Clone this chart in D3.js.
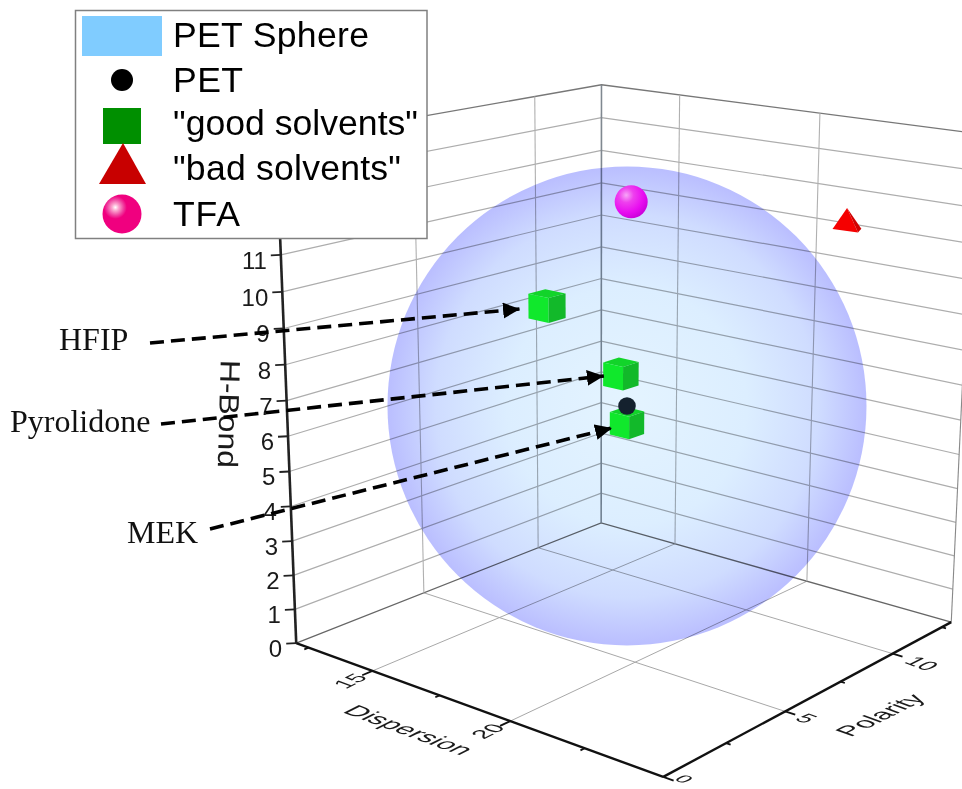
<!DOCTYPE html>
<html><head><meta charset="utf-8">
<script src="https://cdn.jsdelivr.net/npm/d3@7/dist/d3.min.js"></script>
<style>html,body{margin:0;padding:0;background:#fff}svg{display:block}</style>
</head><body><svg id="c" width="962" height="789"></svg>
<script>
const dispersionTicks=[15,20];
const dispersionMinor=[12.5,15,17.5,20,22.5];
const polarityTicks=[0,5,10];
const polarityMinor=[0,2.5,5,7.5,10,12.5];
const hbondTicks=[0,1,2,3,4,5,6,7,8,9,10,11,12,13,14];
const hbondLabels=[0,1,2,3,4,5,6,7,8,9,10,11];
const petPoint=[[17.33,7.83,6.1]];
const sphereRadius=[7];
const goodNames=["HFIP","Pyrolidone","MEK"];
const goodSolvents=[[17,4.87,9.5],[17.13,7.8,7],[16.29,9.09,5.1]];
const badSolvents=[[23.38,9.5,11.9]];
const tfaPoint=[[16.4,9.1,11.6]];
const legendNames=["PET Sphere","PET","\"good solvents\"","\"bad solvents\"","TFA"];
const dDomain=[12,25],pDomain=[0,13],zDomain=[0,14];

const ud=d3.scaleLinear().domain(dDomain).range([0,1]);
const uv=d3.scaleLinear().domain(pDomain).range([0,1]);
const uw=d3.scaleLinear().domain(zDomain).range([0,1]);
function solve(A,b){const n=b.length,M=A.map((r,i)=>[...r,b[i]]);
 for(let i=0;i<n;i++){let p=i;for(let k=i+1;k<n;k++)if(Math.abs(M[k][i])>Math.abs(M[p][i]))p=k;[M[i],M[p]]=[M[p],M[i]];
  for(let k=0;k<n;k++)if(k!==i){const f=M[k][i]/M[i][i];for(let j=i;j<=n;j++)M[k][j]-=f*M[i][j];}}
 return M.map((r,i)=>r[n]/r[i]);}
// camera calibration: cube corners -> screen
const cal=[[0,0,0,295,643],[1,0,0,665,776],[1,1,0,950,624],[0,1,0,602,522],[0,0,1,276,143],[0,1,1,602,85],[1,1,1,974,132]];
const A=[],B=[];cal.forEach(([u,v,w,x,y])=>{
 A.push([u,v,w,1,0,0,0,0,-x*u,-x*v,-x*w]);B.push(x);
 A.push([0,0,0,0,u,v,w,1,-y*u,-y*v,-y*w]);B.push(y);});
const AtA=Array.from({length:11},(_,i)=>Array.from({length:11},(_,j)=>d3.sum(A,r=>r[i]*r[j])));
const Atb=Array.from({length:11},(_,i)=>d3.sum(A,(r,k)=>r[i]*B[k]));
const m=solve(AtA,Atb);
function pj(d,p,z){const u=ud(d),v=uv(p),w=uw(z),q=m[8]*u+m[9]*v+m[10]*w+1;
 return [(m[0]*u+m[1]*v+m[2]*w+m[3])/q,(m[4]*u+m[5]*v+m[6]*w+m[7])/q];}
const [d0,d1]=dDomain,[p0,p1]=pDomain,[z0,z1]=zDomain;

const svg=d3.select("#c");
const defs=svg.append("defs");
const line=d3.line();
const seg=(g,pts,col,w)=>g.append("path").attr("d",line(pts)).attr("fill","none").attr("stroke",col).attr("stroke-width",w);

const grid=svg.append("g");
polarityTicks.filter(p=>p>0).forEach(p=>seg(grid,[pj(d0,p,0),pj(d1,p,0)],"#a8a8a8",1));
dispersionTicks.forEach(d=>seg(grid,[pj(d,p0,0),pj(d,p1,0)],"#a8a8a8",1));
hbondTicks.forEach(z=>{const c=z===0?"#666":(z===14?"#777":"#adadad");
 seg(grid,[pj(d0,p0,z),pj(d0,p1,z),pj(d1,p1,z)],c,z===0||z===14?1.3:1.2);});
polarityTicks.filter(p=>p>0).forEach(p=>seg(grid,[pj(d0,p,0),pj(d0,p,z1)],"#b0b0b0",1.1));
dispersionTicks.forEach(d=>seg(grid,[pj(d,p1,0),pj(d,p1,z1)],"#b0b0b0",1.1));
seg(grid,[pj(d0,p1,0),pj(d0,p1,z1)],"#808890",1.6);
seg(grid,[pj(d1,p1,0),pj(d1,p1,z1)],"#888",1.1);

// sphere
const cs=pj(...petPoint[0]);
const rs=Math.abs(pj(petPoint[0][0],petPoint[0][1],petPoint[0][2]-sphereRadius[0])[1]-pj(petPoint[0][0],petPoint[0][1],petPoint[0][2]+sphereRadius[0])[1])/2;
const sg=defs.append("radialGradient").attr("id","sph");
[[0,"#e4f4ff"],[.5,"#dceeff"],[.8,"#cfdcff"],[1,"#babeff"]].forEach(([o,c])=>sg.append("stop").attr("offset",o).attr("stop-color",c));
svg.append("circle").attr("cx",cs[0]).attr("cy",cs[1]).attr("r",rs).attr("fill","url(#sph)").style("mix-blend-mode","multiply");

// axes
const ax=svg.append("g").attr("font-family","'Liberation Sans',Arial,sans-serif").attr("fill","#1a1a1a");
seg(ax,[pj(d0,p0,0),pj(d1,p0,0)],"#111",2.4);
seg(ax,[pj(d1,p0,0),pj(d1,p1,0)],"#111",2.4);
seg(ax,[pj(d0,p0,0),pj(d0,p0,z1)],"#222",2.6);
hbondLabels.forEach(z=>{const a=pj(d0,p0,z);
 seg(ax,[a,[a[0]-10,a[1]+0.5]],"#222",1.8);
 ax.append("text").attr("x",a[0]-14).attr("y",a[1]+14).attr("text-anchor","end").attr("font-size",24).text(z);});
dispersionMinor.forEach(d=>{const a=pj(d,p0,0),t=pj(d,-(dispersionTicks.includes(d)?0.38:0.16),0);seg(ax,[a,t],"#111",1.8);});
polarityMinor.forEach(p=>{const a=pj(d1,p,0),t=pj(d1+(polarityTicks.includes(p)?0.32:0.14),p,0);seg(ax,[a,t],"#111",1.8);});
function planeText(txt,pos,dirX,dirUp,size,kx,ky){
 const nx=Math.hypot(...dirX),nu=Math.hypot(...dirUp);
 const a=dirX[0]/nx*kx,b=dirX[1]/nx*kx,c=-dirUp[0]/nu*ky,e=-dirUp[1]/nu*ky;
 ax.append("text").attr("transform",`matrix(${a},${b},${c},${e},${pos[0]},${pos[1]})`).attr("text-anchor","middle").attr("dominant-baseline","central").attr("font-size",size).text(txt);}
const dirD=[27.4,10],dirP=[22,-11];
dispersionTicks.forEach(d=>{const a=pj(d,p0,0);planeText(d,[a[0]-22,a[1]+10],dirP,[-dirD[0],-dirD[1]],22,1.05,1);});
polarityTicks.forEach(p=>{const a=pj(d1,p,0),len=String(p).length-1,dy=p===0?2:7+len*3;planeText(p,[a[0]+21+len*8,a[1]+dy],dirD,dirP,p===0?20:22,1.05,p===0?.9:1);});
planeText("Dispersion",[409,730],dirD,dirP,25,1.08,1);
planeText("Polarity",[880,715],dirP,[-dirD[0],-dirD[1]],25,1.02,1.05);
ax.append("text").attr("transform","translate(229,414) rotate(91.5) scale(1.14,1)").attr("text-anchor","middle").attr("dominant-baseline","central").attr("font-size",28).text("H-Bond");

// markers
function cube(c){const [d,p,z]=c,dd=.36,dp=.34,dz=.34;
 const f=(a,b,e)=>pj(d+a*dd,p+b*dp,z+e*dz);
 const g=svg.append("g");
 g.append("path").attr("d",line([f(-1,-1,1),f(1,-1,1),f(1,1,1),f(-1,1,1)])+"Z").attr("fill","#12d42a");
 g.append("path").attr("d",line([f(-1,-1,1),f(1,-1,1),f(1,-1,-1),f(-1,-1,-1)])+"Z").attr("fill","#10e82c");
 g.append("path").attr("d",line([f(1,-1,1),f(1,1,1),f(1,1,-1),f(1,-1,-1)])+"Z").attr("fill","#12b92a");}
goodSolvents.forEach(cube);
const pg=defs.append("radialGradient").attr("id","tfaB").attr("cx",.35).attr("cy",.3).attr("r",.75);
[[0,"#f7a6f7"],[.3,"#ee40ee"],[.7,"#e80cf0"],[1,"#c800d8"]].forEach(([o,c])=>pg.append("stop").attr("offset",o).attr("stop-color",c));
tfaPoint.forEach(c=>{const q=pj(...c);svg.append("circle").attr("cx",q[0]).attr("cy",q[1]).attr("r",16.5).attr("fill","url(#tfaB)");});
petPoint.forEach(c=>{const q=pj(...c);svg.append("circle").attr("cx",q[0]).attr("cy",q[1]).attr("r",8.8).attr("fill","#14212e");});
badSolvents.forEach(c=>{const [d,p,z]=c,ap=pj(d,p,z+.4),l=pj(d-.24,p-.29,z-.15),r=pj(d+.5,p-.2,z-.15),b=pj(d+.3,p+.25,z-.15);
 svg.append("path").attr("d",line([ap,l,r])+"Z").attr("fill","#f50000");
 svg.append("path").attr("d",line([ap,r,b])+"Z").attr("fill","#d00000");});

// arrows
const ann=svg.append("g");
const mk=defs.append("marker").attr("id","ah").attr("markerUnits","userSpaceOnUse").attr("markerWidth",20).attr("markerHeight",18).attr("refX",17).attr("refY",8).attr("orient","auto");
mk.append("path").attr("d","M0,0L17,8L0,16Z").attr("fill","#000");
const starts=[[150,343],[161,424],[210,529]];
const tipOff=[[-27,3],[-17,2],[-15,5]];
goodSolvents.forEach((c,i)=>{const q=pj(...c);
 ann.append("path").attr("d",line([starts[i],[q[0]+tipOff[i][0],q[1]+tipOff[i][1]]])).attr("fill","none").attr("stroke","#000").attr("stroke-width",3.6).attr("stroke-dasharray","14 7").attr("marker-end","url(#ah)");});
const labX=[59,10,127],labY=[350,432,543];
goodNames.forEach((n,i)=>ann.append("text").attr("x",labX[i]).attr("y",labY[i]).attr("font-family","'Liberation Serif','Times New Roman',serif").attr("font-size",32).attr("fill","#111").text(n));

// legend
const lg=svg.append("g");
lg.append("rect").attr("x",75.5).attr("y",10.5).attr("width",351.5).attr("height",228).attr("fill","#fff").attr("stroke","#808080").attr("stroke-width",1.5);
lg.append("rect").attr("x",82).attr("y",16).attr("width",80).attr("height",40).attr("fill","#80ccff");
lg.append("circle").attr("cx",122).attr("cy",80).attr("r",11).attr("fill","#000");
lg.append("rect").attr("x",103).attr("y",108).attr("width",38).attr("height",36).attr("fill","#008f00");
lg.append("path").attr("d",line([[123,143],[146,184],[99,184]])+"Z").attr("fill","#c80000");
const tg=defs.append("radialGradient").attr("id","tfaL").attr("cx",.33).attr("cy",.33).attr("r",.7);
[[0,"#ffffff"],[.12,"#fba8d0"],[.3,"#f040a0"],[.42,"#f0007f"],[1,"#f0007f"]].forEach(([o,c])=>tg.append("stop").attr("offset",o).attr("stop-color",c));
lg.append("circle").attr("cx",122).attr("cy",214).attr("r",19.5).attr("fill","url(#tfaL)");
const legY=[47,92,135,180,226];
const legW=[196,70,245,228,67];
legendNames.forEach((n,i)=>lg.append("text").attr("x",173).attr("y",legY[i]).attr("font-family","'Liberation Sans',Arial,sans-serif").attr("font-size",35.6).attr("textLength",legW[i]).attr("fill","#000").text(n));
</script></body></html>
